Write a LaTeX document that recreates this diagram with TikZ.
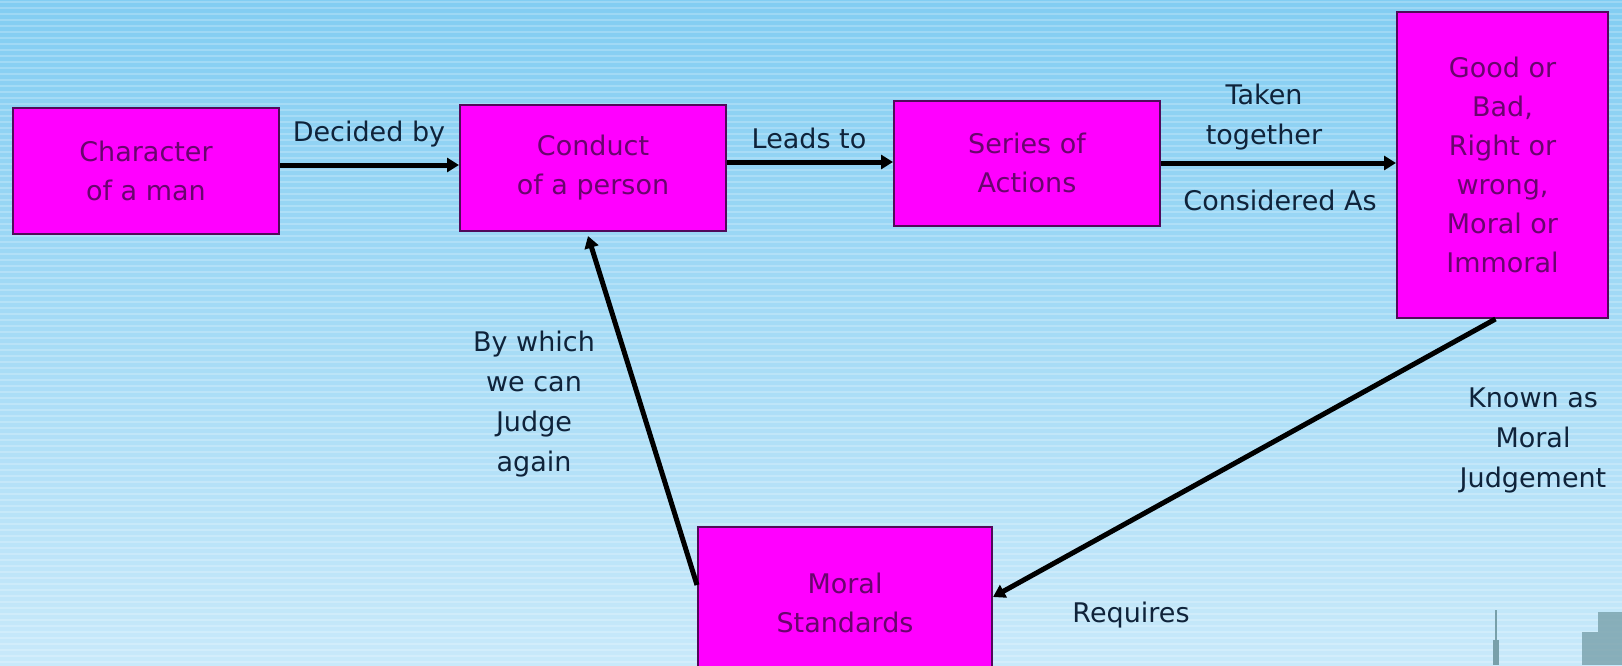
\documentclass[tikz,border=0pt]{standalone}
\usepackage{fontspec}
\setmainfont{DejaVu Sans}
\usetikzlibrary{arrows.meta}
\definecolor{bgtop}{RGB}{130,205,242}
\definecolor{bgbot}{RGB}{200,233,250}
\definecolor{boxfill}{RGB}{255,0,255}
\definecolor{boxline}{RGB}{80,10,90}
\definecolor{boxtext}{RGB}{105,5,110}
\definecolor{labtext}{RGB}{15,35,58}
\definecolor{bldg}{RGB}{120,160,170}
\tikzset{
  mbox/.style={draw=boxline, line width=1pt, fill=boxfill, text=boxtext,
    align=center, inner sep=0pt, font=\fontsize{13.5}{19.5}\selectfont},
  lab/.style={text=labtext, align=center, inner sep=0pt, font=\fontsize{13.5}{20}\selectfont},
  arr/.style={line width=2.5pt, -{Triangle[length=6pt,width=7pt]}},
}
\begin{document}
\begin{tikzpicture}[x=0.5pt,y=-0.5pt]
\useasboundingbox (0,0) rectangle (1622,665);
% background
\shade[top color=bgtop, bottom color=bgbot] (0,0) rectangle (1622,665);
\foreach \yy in {2,8,...,665} {
  \draw[white, opacity=0.22, line width=1pt] (0,\yy) -- (1622,\yy);
}
% skyline hints
\draw[bldg, line width=1pt] (1496,610) -- (1496,665);
\fill[bldg] (1493,640) rectangle (1499,665);
\fill[bldg, opacity=0.8] (1582,632) rectangle (1622,665);
\fill[bldg, opacity=0.8] (1598,612) rectangle (1622,632);
% boxes
\node[mbox, minimum width=133pt, minimum height=63pt] (char) at (146,171) {Character\\of a man};
\node[mbox, minimum width=133pt, minimum height=63pt] (cond) at (593,168) {Conduct\\of a person};
\node[mbox, minimum width=133pt, minimum height=62.5pt] (ser) at (1027,163) {Series of\\Actions};
\node[mbox, minimum width=105.5pt, minimum height=153pt] (good) at (1502.5,165) {Good or\\Bad,\\Right or\\wrong,\\Moral or\\Immoral};
\node[mbox, minimum width=147pt, minimum height=76pt] (moral) at (845,603) {Moral\\Standards};
% arrows
\draw[arr] ([yshift=3pt]char.east) -- ([yshift=3pt]char.east -| cond.west);
\draw[arr] ([yshift=3pt]cond.east) -- ([yshift=3pt]cond.east -| ser.west);
\draw[arr] (ser.east) -- (ser.east -| good.west);
\draw[arr] ([xshift=-3.5pt]good.south) -- ([yshift=3pt]moral.east);
\draw[arr] ([yshift=9pt]moral.west) -- ([xshift=-2.5pt,yshift=-2pt]cond.south);
% labels
\node[lab] (l1) at (369,134) {Decided by};
\node[lab] (l2) at (809,138) {Leads to};
\node[lab] (l3) at (1264,117) {Taken\\together};
\node[lab] (l4) at (1280,200) {Considered As};
\node[lab] (l5) at (534,404) {By which\\we can\\Judge\\again};
\node[lab] (l6) at (1533,440) {Known as\\Moral\\Judgement};
\node[lab] (l7) at (1131,615) {Requires};
\end{tikzpicture}
\end{document}
